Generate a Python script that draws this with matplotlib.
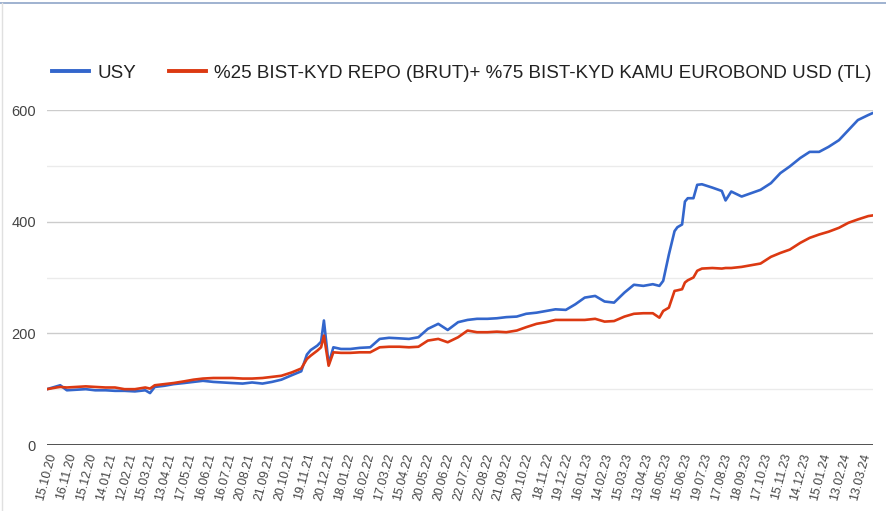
import matplotlib
matplotlib.use("Agg")
import matplotlib.pyplot as plt
from matplotlib.lines import Line2D
import numpy as np

plt.rcParams['font.family'] = ['Liberation Sans', 'DejaVu Sans']

# x tick labels (one every 21 trading days)
tick_labels = [
    "15.10.20", "16.11.20", "15.12.20", "14.01.21", "12.02.21", "15.03.21",
    "13.04.21", "17.05.21", "16.06.21", "16.07.21", "20.08.21", "21.09.21",
    "20.10.21", "19.11.21", "20.12.21", "18.01.22", "16.02.22", "17.03.22",
    "15.04.22", "20.05.22", "20.06.22", "22.07.22", "22.08.22", "21.09.22",
    "20.10.22", "18.11.22", "19.12.22", "16.01.23", "14.02.23", "15.03.23",
    "13.04.23", "16.05.23", "15.06.23", "19.07.23", "17.08.23", "18.09.23",
    "17.10.23", "15.11.23", "14.12.23", "15.01.24", "13.02.24", "13.03.24",
]
days_per_tick = 21

# trading-day index of each sampled value
day = [0, 10, 14, 21, 31, 41, 51, 62, 72, 82, 93, 104, 109, 114, 124, 134, 145,
       155, 165, 176, 186, 196, 207, 217, 228, 238, 248, 259, 269, 275, 279, 286,
       290, 293, 298, 303, 311, 321, 331, 342, 352, 362, 373, 383, 393, 403, 414,
       424, 435, 445, 455, 466, 476, 486, 497, 507, 518, 528, 538, 549, 559, 569,
       580, 590, 600, 611, 621, 631, 641, 648, 652, 658, 664, 667, 672, 675, 678,
       684, 688, 693, 704, 714, 718, 724, 735, 745, 755, 766, 776, 786, 797, 807,
       817, 827, 838, 848, 858, 869, 873]

usy = [100, 105, 107, 98, 99, 100, 98, 98, 97, 97, 96, 98, 93, 104, 106, 109, 111,
       113, 115, 113, 112, 111, 110, 112, 110, 113, 117, 125, 132, 162, 170, 178,
       185, 223, 145, 175, 172, 172, 174, 175, 190, 192, 191, 190, 193, 208, 217,
       206, 220, 224, 226, 226, 227, 229, 230, 235, 237, 240, 243, 242, 252, 264,
       267, 257, 255, 273, 287, 285, 288, 285, 294, 341, 383, 390, 395, 436, 442,
       442, 466, 467, 461, 455, 438, 454, 445, 451, 457, 469, 487, 499, 514, 525,
       525, 534, 546, 564, 582, 591, 594]

bench = [100, 103, 104, 103, 104, 105, 104, 103, 103, 100, 100, 103, 101, 107, 109,
         111, 114, 117, 119, 120, 120, 120, 119, 119, 120, 122, 124, 130, 137, 154,
         160, 169, 175, 196, 142, 166, 165, 165, 166, 166, 175, 176, 176, 175, 176,
         187, 190, 184, 193, 205, 202, 202, 203, 202, 205, 211, 217, 220, 224, 224,
         224, 224, 226, 221, 222, 230, 235, 236, 236, 228, 240, 246, 276, 277, 279,
         291, 295, 300, 312, 316, 317, 316, 317, 317, 319, 322, 325, 337, 344, 350,
         362, 371, 377, 382, 389, 398, 404, 410, 411]

series_names = ["USY", "%25 BIST-KYD REPO (BRUT)+ %75 BIST-KYD KAMU EUROBOND USD (TL)"]
colors = ["#3366cc", "#dc3912"]

fig = plt.figure(figsize=(8.87, 5.11), dpi=100)
W, H = 887, 511
ax = fig.add_axes([47 / W, 1 - 445 / H, (873 - 47) / W, (445 - 110) / H])

# gridlines
for v in [100, 300, 500]:
    ax.axhline(v, color="#ebebeb", lw=1.0, zorder=0)
for v in [200, 400, 600]:
    ax.axhline(v, color="#cccccc", lw=1.0, zorder=0)
ax.axhline(0, color="#333333", lw=1.2, zorder=3)

ax.plot(day, usy, color=colors[0], lw=1.9, label=series_names[0], zorder=2)
ax.plot(day, bench, color=colors[1], lw=1.9, label=series_names[1], zorder=2.5)

ax.set_ylim(0, 600)
ax.set_xlim(0, 874)
ax.set_yticks([0, 200, 400, 600])
ax.set_yticklabels(["0", "200", "400", "600"])
ax.set_xticks([i * days_per_tick for i in range(len(tick_labels))])
ax.set_xticklabels(tick_labels, rotation=75, ha="right", va="top",
                   rotation_mode="anchor")
ax.tick_params(axis="y", length=0, pad=8, labelsize=10.5, labelcolor="#444444")
ax.tick_params(axis="x", length=0, pad=5, labelsize=8.9, labelcolor="#444444")
for s in ax.spines.values():
    s.set_visible(False)
ax.set_facecolor("none")

leg = fig.legend(loc="center left", bbox_to_anchor=(35 / W, 1 - 73 / H), ncol=2,
                 frameon=False, fontsize=13.5,
                 handlelength=2.0, handletextpad=0.42, columnspacing=1.75)
for line in leg.get_lines():
    line.set_linewidth(2.8)
for t in leg.get_texts():
    t.set_color("#222222")

# frame lines of the screenshot
fig.add_artist(Line2D([0, 1], [1 - 3.5 / H, 1 - 3.5 / H], transform=fig.transFigure,
                      color="#8fa6c8", lw=1.2))
fig.add_artist(Line2D([2 / W, 2 / W], [0, 1 - 3.5 / H], transform=fig.transFigure,
                      color="#e0e0e0", lw=1.0))

fig.savefig("out.png", dpi=100)
